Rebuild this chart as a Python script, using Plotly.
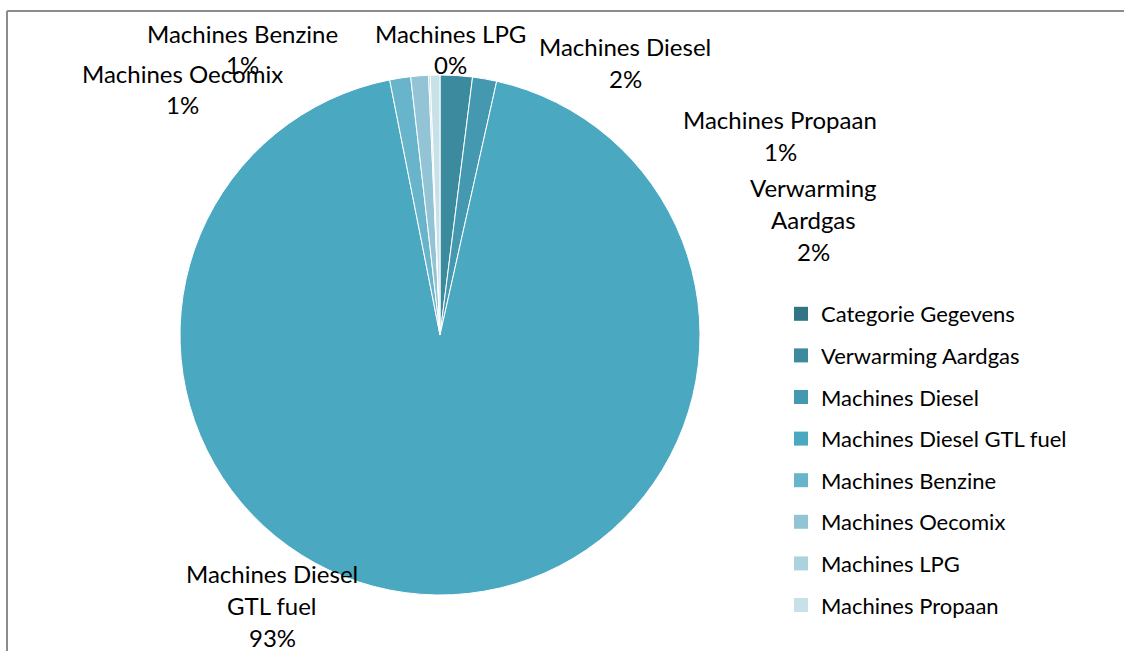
import plotly.graph_objects as go

# ---- data ----
categories = ["Categorie Gegevens", "Verwarming Aardgas", "Machines Diesel",
              "Machines Diesel GTL fuel", "Machines Benzine", "Machines Oecomix",
              "Machines LPG", "Machines Propaan"]
values = [0.0, 2.0, 1.5, 93.4, 1.3, 1.1, 0.1, 0.6]
colors = ["#337587", "#3b8a9e", "#4499b0", "#4aa8c0", "#68b4cb", "#92c4d6", "#acd2de", "#c8e1e9"]

# label text lines (data label wording as in the chart) and their placement (px: center x, first line y)
label_lines = {
    "Verwarming Aardgas": ["Verwarming", "Aardgas"],
    "Machines Diesel": ["Machines Diesel"],
    "Machines Diesel GTL fuel": ["Machines Diesel", "GTL fuel"],
    "Machines Benzine": ["Machines Benzine"],
    "Machines Oecomix": ["Machines Oecomix"],
    "Machines LPG": ["Machines LPG"],
    "Machines Propaan": ["Machines Propaan"],
}
label_pos = {
    "Verwarming Aardgas": (813, 187),
    "Machines Diesel": (625, 47),
    "Machines Diesel GTL fuel": (272, 573),
    "Machines Benzine": (242, 33),
    "Machines Oecomix": (182, 73),
    "Machines LPG": (450, 33),
    "Machines Propaan": (780, 120),
}

W, H = 1124, 651
FONT = "Lato, 'Open Sans', sans-serif"

fig = go.Figure()
fig.add_trace(go.Pie(
    labels=categories, values=values, sort=False, direction="clockwise", rotation=0,
    marker=dict(colors=colors, line=dict(color="white", width=1)),
    textinfo="none", showlegend=False,
    domain=dict(x=[180 / W, 700 / W], y=[1 - 595 / H, 1 - 75 / H]),
))

# legend entries (square swatches)
for i, (c, col) in enumerate(zip(categories, colors)):
    fig.add_trace(go.Scatter(
        x=[None], y=[None], mode="markers", name=c, legendgroup=c,
        marker=dict(symbol="square", size=14, color=col),
        hoverinfo="skip",
    ))

total = sum(values)
annotations = []
LINE = 32
for c, v in zip(categories, values):
    if c not in label_lines:
        continue
    lines = label_lines[c] + [f"{v / total * 100:.0f}%"]
    cx, cy = label_pos[c]
    for k, t in enumerate(lines):
        annotations.append(dict(
            x=cx / W, y=1 - (cy + k * LINE) / H, xref="paper", yref="paper",
            text=t, showarrow=False, xanchor="center", yanchor="middle",
            font=dict(family=FONT, size=24, color="#000000"),
        ))

fig.update_layout(
    width=W, height=H, margin=dict(l=0, r=0, t=0, b=0),
    paper_bgcolor="white", plot_bgcolor="white",
    xaxis=dict(visible=False), yaxis=dict(visible=False),
    showlegend=True,
    legend=dict(x=781 / W, y=1 - 293 / H, xanchor="left", yanchor="top",
                font=dict(family=FONT, size=22, color="#000000"),
                tracegroupgap=10, bgcolor="rgba(0,0,0,0)"),
    annotations=annotations,
    shapes=[
        dict(type="line", xref="paper", yref="paper", x0=7 / W, x1=1, y0=1 - 11 / H, y1=1 - 11 / H,
             line=dict(color="#8c8c8c", width=2)),
        dict(type="line", xref="paper", yref="paper", x0=7 / W, x1=7 / W, y0=0, y1=1 - 11 / H,
             line=dict(color="#8c8c8c", width=2)),
    ],
)

fig.write_html("out.html", config={"displayModeBar": False},
               post_script="document.body.style.margin='0';document.body.style.overflow='hidden';")
